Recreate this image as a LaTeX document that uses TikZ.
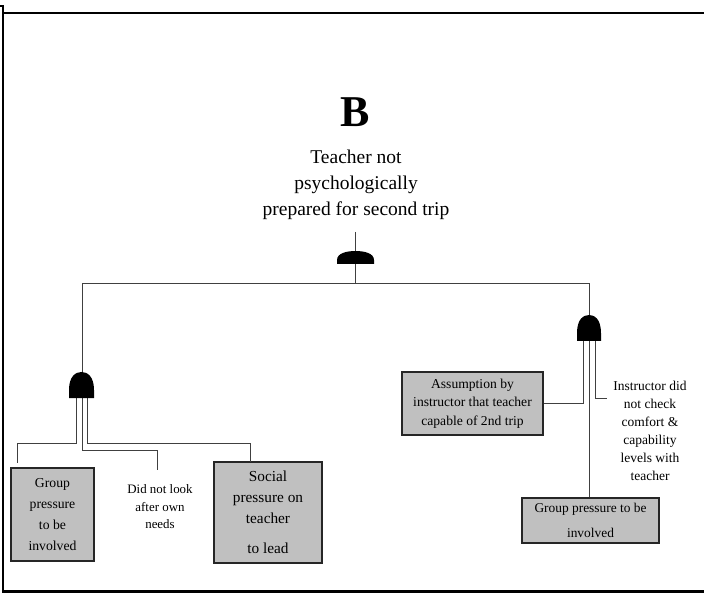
\documentclass[tikz,border=0pt]{standalone}
\usepackage{fontspec}
\setmainfont{Liberation Serif}
\definecolor{boxgray}{HTML}{C0C0C0}
\tikzset{
	event/.style={draw=black!85,line width=1.2pt,fill=boxgray,align=center,inner sep=0pt},
	note/.style={align=center,inner sep=0pt},
	wire/.style={black!75,line width=0.9pt},
	pics/gate/.style 2 args={code={
		\fill (-#1,0) -- (-#1,-0.3*#2) .. controls (-#1,-0.85*#2) and (-0.45*#1,-#2) .. (0,-#2)
			.. controls (0.45*#1,-#2) and (#1,-0.85*#2) .. (#1,-0.3*#2) -- (#1,0) -- cycle;
	}}
}
\begin{document}
\begin{tikzpicture}[x=1pt,y=-1pt]
			\useasboundingbox (0,0) rectangle (704,593);
			\draw[line width=2.2pt] (0,6) -- (3,6) -- (3,591.5) -- (704,591.5);
			\draw[line width=1.8pt] (3,13) -- (704,13);
			\node[anchor=base,font=\bfseries\fontsize{44}{44}\selectfont] (title) at (355,127) {B};
			\node[note,font=\fontsize{19.5}{26}\selectfont] (top) at (356,185) {Teacher not\\psychologically\\prepared for second trip};
			\node[event,minimum width=83pt,minimum height=93pt,font=\fontsize{13.7}{20.7}\selectfont] (grp1) at (52.5,514.5) {Group\\pressure\\to be\\involved};
			\node[note,font=\fontsize{12.9}{17.5}\selectfont] (needs) at (160,507) {Did not look\\after own\\needs};
			\node[event,minimum width=108pt,minimum height=101pt,font=\fontsize{15.3}{21}\selectfont] (social) at (268,512.5) {Social\\pressure on\\teacher\\[9pt]to lead};
			\node[event,minimum width=141pt,minimum height=63pt,font=\fontsize{13.6}{18.5}\selectfont] (assume) at (472.5,403.5) {Assumption by\\instructor that teacher\\capable of 2nd trip};
			\node[event,minimum width=137pt,minimum height=45pt,font=\fontsize{13.4}{25}\selectfont] (grp2) at (590.5,520.5) {Group pressure to be\\involved};
			\node[note,font=\fontsize{13.5}{18}\selectfont] (instr) at (650,431) {Instructor did\\not check\\comfort \&\\capability\\levels with\\teacher};
			\coordinate (topin) at (355.5,232);
			\coordinate (tg) at (355.5,264);
			\coordinate (bus) at (355.5,283);
			\coordinate (busr) at (589,283);
			\coordinate (lgtop) at (82,372);
			\coordinate (rgtop) at (589,315);
			\coordinate (lg1) at (76,398);
			\coordinate (lg2) at (82,398);
			\coordinate (lg3) at (87,398);
			\coordinate (rg1) at (583,341);
			\coordinate (rg2) at (589,341);
			\coordinate (rg3) at (595,341);
			\draw[wire] (topin) -- (bus);
			\draw[wire] (lgtop) |- (busr) -- (rgtop);
			\draw[wire] (lg1) |- (17,443) -- (17,463);
			\draw[wire] (lg2) |- (157,450) -- (157,470);
			\draw[wire] (lg3) |- (250,443) -- (250,462);
			\draw[wire] (rg1) |- (assume.east);
			\draw[wire] (rg2) -- (rg2 |- grp2.north);
			\draw[wire] (rg3) |- (607,398);
			\pic at (tg) {gate={18.5}{13}};
			\pic at (81.5,398) {gate={12.5}{26}};
			\pic at (589,341) {gate={12}{26}};
		\end{tikzpicture}
\end{document}
